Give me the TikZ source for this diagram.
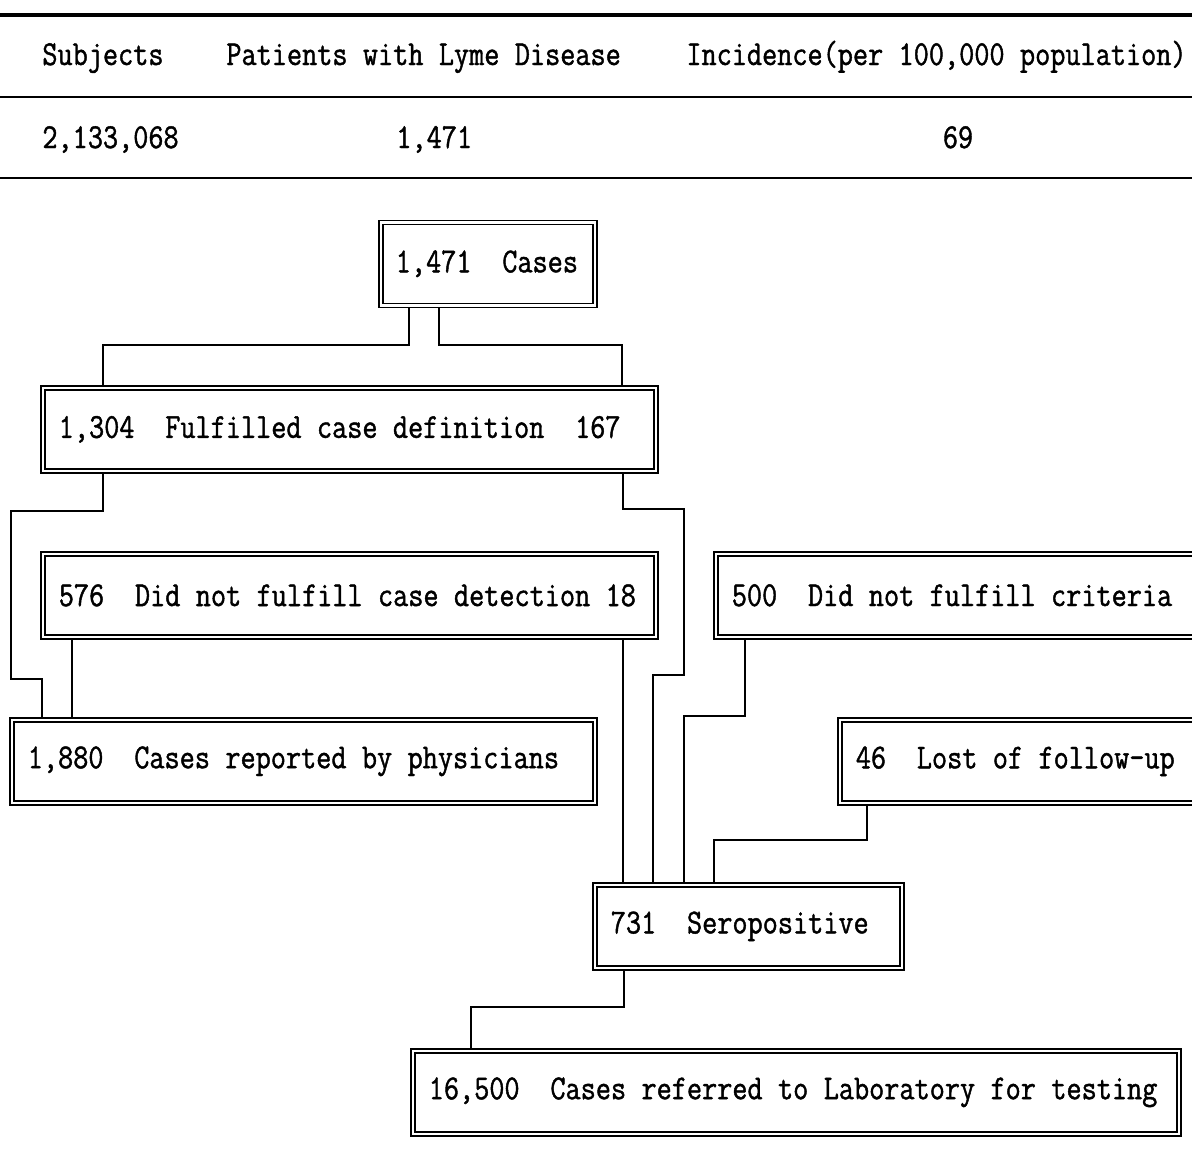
\documentclass[tikz,border=0pt]{standalone}
\usepackage{fontspec}
\setmonofont{Latin Modern Mono}[FakeStretch=0.84,FakeBold=1.2]
\newcommand\lymefont{\ttfamily\fontsize{17.5pt}{20pt}\selectfont}
\newcommand\gap{\kern7.7pt\relax}

\begin{document}
\begin{tikzpicture}[x=0.5pt,y=-0.5pt,font=\lymefont,
  box/.style={draw,double,double distance=1.3pt,line width=0.75pt,anchor=north west,
    inner xsep=8pt,inner ysep=0pt,minimum height=41.5pt,align=left,outer sep=1.4pt,text width=#1},
  cell/.style={inner sep=0pt,anchor=base west},
  wire/.style={line width=0.8pt}]
  \clip (0,0) rectangle (1192,1169);
  \draw[line width=2pt] (0,15) -- (1192,15);
  \draw[line width=1pt] (0,97) -- (1192,97);
  \draw[line width=1pt] (0,178) -- (1192,178);
  \node[cell] (hsub) at (42,65) {Subjects};
  \node[cell] (hpat) at (226,65) {Patients\gap with\gap Lyme\gap Disease};
  \node[cell] (hinc) at (686,65) {Incidence(per\gap 100,000\gap population)};
  \node[cell] (rsub) at (42,148) {2,133,068};
  \node[cell] (rpat) at (396,148) {1,471};
  \node[cell,anchor=base] (rinc) at (958,148) {69};
  \node[box=92pt,inner xsep=7.5pt] (cases) at (378,219.5) {1,471\gap\gap Cases};
  \node[box=290.5pt] (fulfil) at (40,385) {1,304\gap\gap Fulfilled\gap case\gap definition\gap\gap 167};
  \node[box=290.5pt] (notdet) at (40,551) {576\gap\gap Did\gap not\gap fulfill\gap case\gap detection\gap 18};
  \node[box=280pt] (crit) at (713,551) {500\gap\gap Did\gap not\gap fulfill\gap criteria};
  \node[box=275.5pt] (report) at (9,717) {1,880\gap\gap Cases\gap reported\gap by\gap physicians};
  \node[box=200pt] (lost) at (837,717) {46\gap\gap Lost\gap of\gap follow-up};
  \node[box=137.5pt] (sero) at (592,882) {731\gap\gap Seropositive};
  \node[box=367pt] (lab) at (410,1048) {16,500\gap\gap Cases\gap referred\gap to\gap Laboratory\gap for\gap testing};
  \draw[wire] (cases.south -| 409,0) |- (103,345) -- (fulfil.north -| 103,0);
  \draw[wire] (cases.south -| 439,0) |- (622,345) -- (fulfil.north -| 622,0);
  \draw[wire] (fulfil.south -| 103,0) |- (11,511) |- (42,679) -- (report.north -| 42,0);
  \draw[wire] (notdet.south -| 72,0) -- (report.north -| 72,0);
  \draw[wire] (fulfil.south -| 623,0) |- (684,509) |- (653,675) -- (sero.north -| 653,0);
  \draw[wire] (notdet.south -| 623,0) -- (sero.north -| 623,0);
  \draw[wire] (crit.south -| 745,0) |- (684,716) -- (sero.north -| 684,0);
  \draw[wire] (lost.south -| 867,0) |- (714,840) -- (sero.north -| 714,0);
  \draw[wire] (sero.south -| 624,0) |- (471,1007) -- (lab.north -| 471,0);
\end{tikzpicture}
\end{document}
